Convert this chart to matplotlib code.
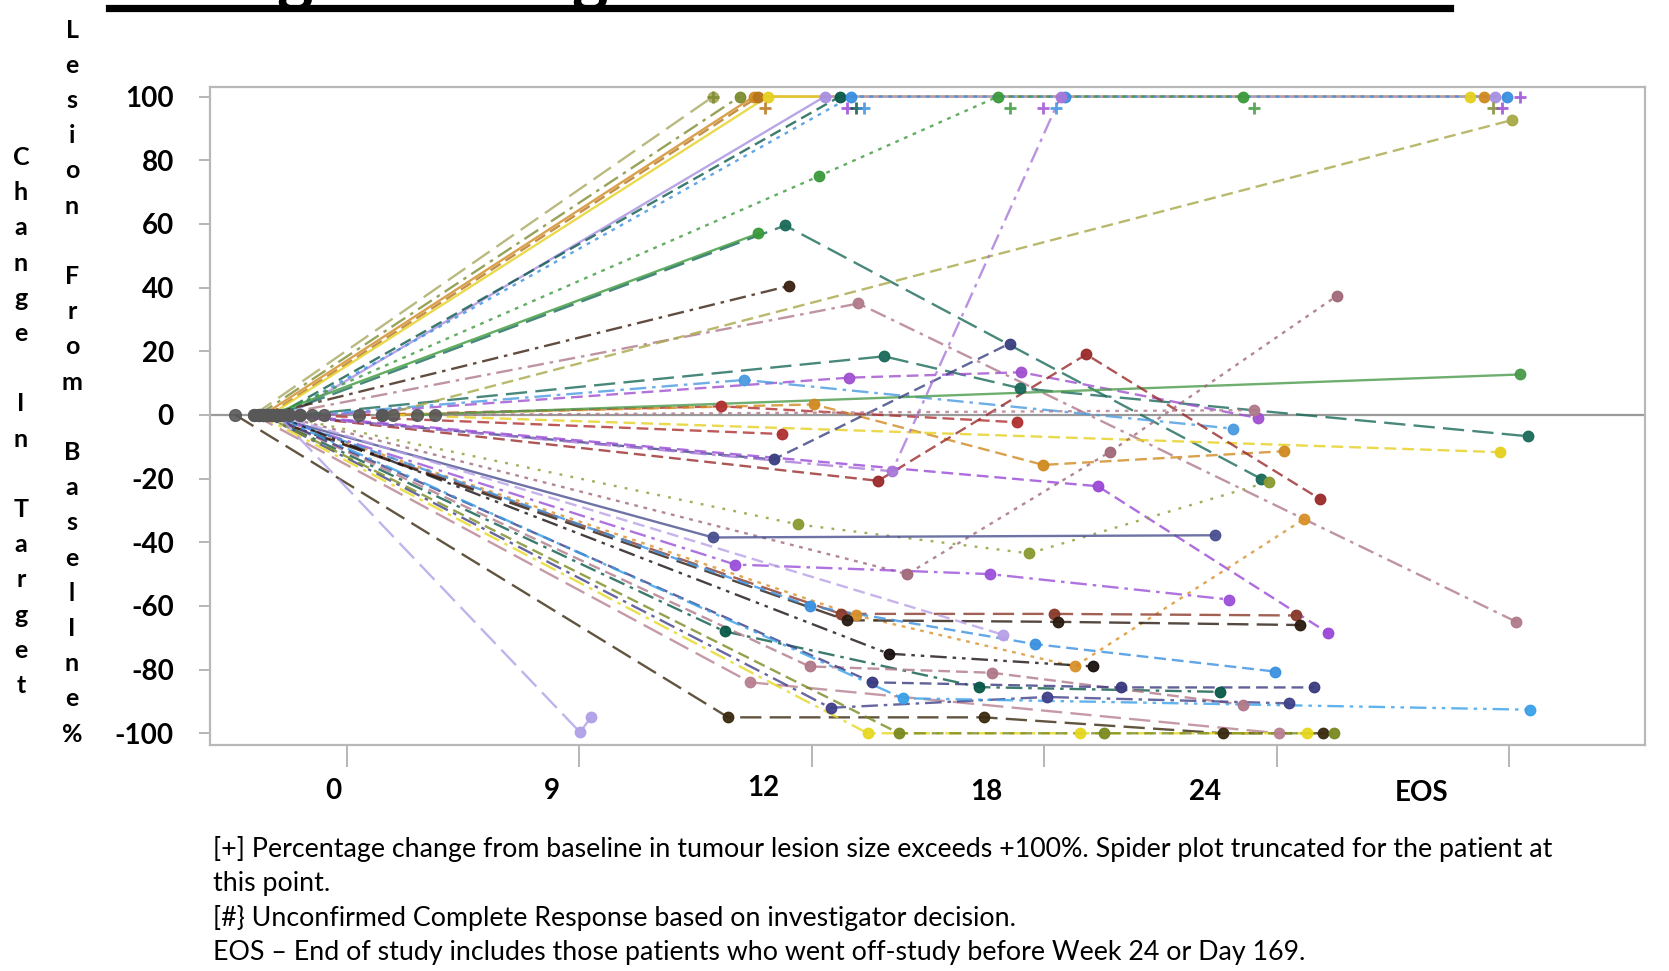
import matplotlib
matplotlib.use('Agg')
import matplotlib.pyplot as plt
from matplotlib.lines import Line2D

# ---------------- data ----------------
# x is visit position in tick units (0 = week 0 tick, 1 = week 9, 2 = week 12,
# 3 = week 18, 4 = week 24, 5 = EOS); y = % change from baseline
patient_x = [
    [-0.40, 1.575],
    [-0.38, 1.69],
    [-0.36, 1.75, 4.89],
    [-0.34, 1.77],
    [-0.33, 1.81, 4.83],
    [-0.25, 2.055, 4.94],
    [-0.30, 2.12],
    [-0.28, 2.17, 3.09, 4.99],
    [-0.32, 2.03, 2.80, 3.855],
    [-0.33, 1.77],
    [-0.30, 1.885, 3.93],
    [-0.35, 1.90],
    [-0.30, 2.20, 5.03],
    [-0.20, 2.31, 2.895, 5.08],
    [-0.10, 2.16, 2.90, 3.92],
    [-0.15, 1.71, 3.81],
    [0.05, 1.61, 2.88],
    [0.15, 2.01, 2.995, 4.03],
    [0.30, 5.045],
    [0.20, 4.96],
    [0.15, 5.01],
    [-0.30, 1.835, 2.85],
    [-0.28, 2.285, 3.18, 4.185],
    [-0.30, 2.345, 3.07],
    [-0.30, 2.41, 3.28, 4.26],
    [-0.25, 3.23, 4.22],
    [-0.30, 1.94, 2.935, 3.965],
    [-0.35, 2.19, 3.13, 4.115],
    [-0.35, 1.575, 3.735],
    [-0.35, 1.67, 2.765, 3.795],
    [-0.38, 2.125, 3.04, 4.08],
    [-0.38, 2.15, 3.06, 4.10],
    [-0.33, 1.99, 2.96, 3.99],
    [-0.30, 2.82],
    [-0.36, 1.625, 2.72, 3.755],
    [-0.32, 2.33, 3.21],
    [-0.34, 1.99, 2.775, 3.855],
    [-0.40, 1.735, 4.01],
    [-0.34, 2.26, 3.33, 4.16],
    [-0.36, 2.08, 3.01, 4.05],
    [-0.32, 2.39, 5.09],
    [-0.48, 1.64, 2.74, 3.77, 4.20],
    [-0.38, 2.24, 3.155, 4.13],
    [-0.36, 2.375, 3.255, 4.245],
    [-0.30, 1.003, 1.049],
    [-0.20, 1.87],
    [0.38, 3.90],
]
patient_y = [
    [0, 100],
    [0, 100],
    [0, 100, 100],
    [0, 100],
    [0, 100, 100],
    [0, 100, 100],
    [0, 100],
    [0, 100, 100, 100],
    [0, 75, 100, 100],
    [0, 57],
    [0, 59.5, -20],
    [0, 40.5],
    [0, 35, -65],
    [0, 18.4, 8.4, -6.7],
    [0, 11.7, 13.4, -1],
    [0, 11, -4.3],
    [0, 2.7, -2.3],
    [0, 3.3, -15.7, -11.4],
    [0, 12.7],
    [0, -11.7],
    [0, 92.6],
    [0, -14, 22.4],
    [0, -20.7, 19, -26.4],
    [0, -17.7, 100],
    [0, -50, -11.7, 37.5],
    [0, -22.4, -68.5],
    [0, -34.4, -43.5, -21],
    [0, -63, -79, -32.8],
    [0, -38.5, -37.8],
    [0, -47, -50, -58],
    [0, -62.5, -62.5, -63],
    [0, -64.5, -65, -66],
    [0, -60, -72, -80.6],
    [0, -69],
    [0, -68, -85.5, -87],
    [0, -75, -79],
    [0, -79, -81, -91],
    [0, -84, -100],
    [0, -84, -85.6, -85.6],
    [0, -92, -88.6, -90.6],
    [0, -89, -92.6],
    [0, -95, -95, -100, -100],
    [0, -100, -100, -100],
    [0, -100, -100, -100],
    [0, -99.7, -95],
    [0, -6],
    [0, 1.5],
]
# truncation "+" symbols just below the +100 line
plus_x = [1.575, 1.80, 2.15, 2.19, 2.225, 2.85, 2.995, 3.05, 3.90, 4.93, 4.97, 5.045]
plus_y = [100, 96.3, 96.3, 96.3, 96.3, 96.3, 96.3, 96.3, 96.3, 96.3, 96.3, 100]

y_ticks = [100, 80, 60, 40, 20, 0, -20, -40, -60, -80, -100]
x_ticks = [0, 1, 2, 3, 4, 5]
x_tick_labels = ['0', '9', '12', '18', '24', 'EOS']

footnotes = [
    "[+] Percentage change from baseline in tumour lesion size exceeds +100%. Spider plot truncated for the patient at",
    "this point.",
    "[#} Unconfirmed Complete Response based on investigator decision.",
    "EOS \u2013 End of study includes those patients who went off-study before Week 24 or Day 169.",
]
ylabel_left = "Change\nIn\nTarget"
ylabel_right = "Lesion\nFrom\nBaselIne%"

# ---------------- styles ----------------
patient_color = [
    '#a8a860', '#7d8c30', '#d08a20', '#b8741a', '#e6d020', '#a890e0', '#0b5a4a',
    '#3b8fe0', '#3c9a3c', '#3a9a3a', '#1a6a5a', '#3a2010', '#b07a8a', '#1a6a5a',
    '#a050d0', '#4a9ae0', '#b03030', '#d08a20', '#4a9a4a', '#e6d020', '#a8a848',
    '#3a4080', '#9a2a2a', '#a878d8', '#a06878', '#9a48d8', '#8a9a30', '#d8902a',
    '#4a5090', '#9a50d8', '#8a3a2a', '#2a1a10', '#3a90e0', '#b8a0e8', '#0a5a48',
    '#1a1010', '#b07888', '#b88090', '#3a3a80', '#404088', '#3aa0e8', '#3a2a10',
    '#e6d820', '#7a8a20', '#b0a0e8', '#b03030', '#b07a8a',
]
patient_style = [
    'longdash', 'dashdot', 'solid', 'dash', 'solid', 'solid', 'dash',
    'dot', 'dot', 'solid', 'longdash', 'dashdot', 'dashdot', 'longdash',
    'dash', 'dashdot', 'dash', 'dash', 'solid', 'dash', 'dash',
    'dash', 'dash', 'dashdot', 'dot', 'dash', 'dotdot', 'dot',
    'solid', 'dashdot', 'longdash', 'longdash', 'dash', 'dash', 'dashdot',
    'dashdotdot', 'dash', 'longdash', 'dash', 'dashdot', 'dashdotdot', 'longdash',
    'dashdot', 'dash', 'longdash', 'dash', 'dot',
]
ls_map = {
    'solid': '-',
    'dash': (0, (5, 2.5)),
    'longdash': (0, (9, 3.5)),
    'dashdot': (0, (7, 2.5, 1.5, 2.5)),
    'dot': (0, (1.6, 2.4)),
    'dotdot': (0, (1.2, 3.5)),
    'dashdotdot': (0, (7, 2.5, 1.5, 2.5, 1.5, 2.5)),
}
plus_color = ['#7d8c30', '#b8741a', '#9a48d8', '#0b5a4a', '#3b8fe0', '#3c9a3c',
              '#a050d0', '#3b8fe0', '#3c9a3c', '#7d8c30', '#9a48d8', '#9a48d8']

FONT = 'Lato'
plt.rcParams['font.family'] = [FONT, 'DejaVu Sans']

fig = plt.figure(figsize=(16.69, 9.71), dpi=100)
ax = fig.add_axes([0.1258, 0.2327, 0.8598, 0.6777])

ax.axhline(0, color='#9a9a9a', lw=1.6, zorder=1)

for xs, ys, c, st in zip(patient_x, patient_y, patient_color, patient_style):
    ax.plot(xs, ys, color=c, ls=ls_map[st], lw=1.7, alpha=0.8, zorder=2,
            dash_capstyle='butt')
    ax.plot(xs[1:], ys[1:], ls='none', marker='o', ms=7.5, color=c,
            alpha=0.95, zorder=4)
    ax.plot(xs[:1], ys[:1], ls='none', marker='o', ms=8.5, color='#585858',
            alpha=0.9, zorder=3)

for px, py, pc in zip(plus_x, plus_y, plus_color):
    ax.plot([px], [py], ls='none', marker='+', ms=8, mew=2, color=pc,
            alpha=0.85, zorder=5)

ax.set_xlim(-0.589, 5.583)
ax.set_ylim(-103.7, 103.0)

ax.set_yticks(y_ticks)
ax.set_yticklabels([str(v) for v in y_ticks], fontsize=20, fontweight='bold')
ax.set_xticks(x_ticks)
ax.set_xticklabels([])
ax.tick_params(axis='y', length=8, width=1.3, color='#b0b0b0', pad=18)
ax.tick_params(axis='x', length=16, width=1.3, color='#b0b0b0')

x_label_pos = [-0.06, 0.88, 1.79, 2.75, 3.69, 4.62]
x_label_dy = [-0.070, -0.070, -0.066, -0.071, -0.071, -0.073]
for lx, ly, lab in zip(x_label_pos, x_label_dy, x_tick_labels):
    ax.text(lx, ly, lab, transform=ax.get_xaxis_transform(), ha='center',
            va='center', fontsize=20, fontweight='bold')

for s in ax.spines.values():
    s.set_color('#b8b8b8')
    s.set_linewidth(1.6)

# vertical stacked y-axis label
def stacked(text, x_px, y0_px, step_px):
    row = 0
    for line in text.split('\n'):
        for ch in line:
            fig.text(x_px / 1669, 1 - (y0_px + row * step_px) / 971, ch,
                     ha='center', va='center', fontsize=18, fontweight='bold')
            row += 1
        row += 1

stacked(ylabel_left, 21, 157.5, 35.2)
stacked(ylabel_right, 72, 30, 35.2)

# footnotes
foot_y = [849, 883, 917.5, 952.5]
for t, fy in zip(footnotes, foot_y):
    fig.text(213 / 1669, 1 - fy / 971, t, ha='left', va='center', fontsize=19.3)

# cut-off title (only descenders visible) and its underline
fig.add_artist(Line2D([109 / 1669, 1450 / 1669], [1 - 8.5 / 971, 1 - 8.5 / 971],
                      color='black', lw=5.2, transform=fig.transFigure))
for gx in [295, 590]:
    fig.text(gx / 1669, 1 - 12 / 971, 'g', ha='center', va='bottom',
             fontsize=50, fontweight='bold')

fig.savefig('out.png', dpi=100)
